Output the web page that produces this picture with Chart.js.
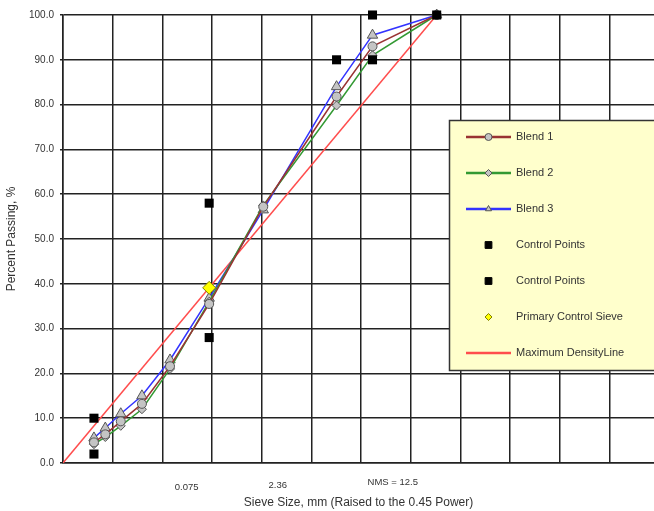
<!DOCTYPE html>
<html>
<head>
<meta charset="utf-8">
<script src="https://cdn.jsdelivr.net/npm/chart.js@4/dist/chart.umd.min.js"></script>
<style>
    body { margin: 0; background: #fff; overflow: hidden; }
    #wrap { width: 654px; height: 511px; }
</style>
</head>
<body>
<div id="wrap"><canvas id="gradationChart"></canvas></div>
<script>
// Sieve sizes (mm) and percent passing for each blend
const sieveSizes = [0.075, 0.15, 0.3, 0.6, 1.18, 2.36, 4.75, 9.5, 12.5, 19];
const blend1 = [4.6, 6.4, 9.3, 13.2, 21.6, 35.5, 57.2, 81.8, 93.0, 100];
const blend2 = [4.2, 5.8, 8.3, 12.0, 21.0, 36.0, 57.5, 79.8, 91.0, 100];
const blend3 = [5.6, 7.8, 11.0, 15.0, 23.0, 36.8, 56.5, 84.0, 95.5, 100];

// Control points (lower and upper)
const cpLowSizes = [0.075, 2.36, 12.5, 19];
const cpLow = [2, 28, 90, 100];
const cpHighSizes = [0.075, 2.36, 9.5, 12.5];
const cpHigh = [10, 58, 90, 100];

// Primary control sieve
const pcsSizes = [2.36];
const pcs = [39.1];

// Maximum density line
const mdlSizes = [0, 19];
const mdl = [0, 100];

// Text labels written under the x axis (value on the powered axis)
const xLabelText = ['0.075', '2.36', 'NMS = 12.5'];
const xLabelAt = [1.245, 2.162, 3.32];

const FONT = "'Liberation Sans', Arial, sans-serif";

function toPoints(sizes, values) {
    return sizes.map((s, i) => ({ x: Math.pow(s, 0.45), y: values[i] }));
}

const markerFill = '#c4c4c4';
const markerEdge = '#555';

// Box legend drawn on top of the plot
const boxLegend = {
    id: 'boxLegend',
    afterDraw(chart) {
        const ctx = chart.ctx;
        ctx.save();
        ctx.fillStyle = '#ffffcc';
        ctx.fillRect(449, 120, 220, 250);
        ctx.strokeStyle = '#333';
        ctx.lineWidth = 1.5;
        ctx.strokeRect(449.5, 120.5, 220, 250);

        chart.data.datasets.forEach((ds, i) => {
            const y = 137 + i * 36;
            if (ds.showLine !== false) {
                ctx.strokeStyle = ds.borderColor;
                ctx.lineWidth = 2.5;
                ctx.beginPath();
                ctx.moveTo(466, y);
                ctx.lineTo(511, y);
                ctx.stroke();
            }
            if (ds.pointRadius > 0) {
                ctx.fillStyle = ds.pointBackgroundColor;
                ctx.strokeStyle = ds.pointBorderColor;
                ctx.lineWidth = 1;
                Chart.helpers.drawPoint(ctx, {
                    pointStyle: ds.pointStyle,
                    radius: ds.legendRadius,
                    borderWidth: 1
                }, 488.5, y);
            }
            ctx.fillStyle = '#333';
            ctx.font = '11px ' + FONT;
            ctx.textAlign = 'left';
            ctx.textBaseline = 'middle';
            ctx.fillText(ds.label, 516, y);
        });

        // labels under the x axis
        const xs = chart.scales.x;
        const ys = [487, 485, 482];
        ctx.font = '9.5px ' + FONT;
        ctx.textAlign = 'center';
        ctx.fillStyle = '#333';
        xLabelText.forEach((t, i) => {
            ctx.fillText(t, xs.getPixelForValue(xLabelAt[i]), ys[i]);
        });
        ctx.restore();
    }
};

const ctx = document.getElementById('gradationChart').getContext('2d');

new Chart(ctx, {
    type: 'scatter',
    data: {
        datasets: [
            {
                label: 'Blend 1',
                data: toPoints(sieveSizes, blend1),
                showLine: true,
                clip: false,
                borderColor: '#993333',
                borderWidth: 1.5,
                pointStyle: 'circle',
                pointRadius: 4.5,
                legendRadius: 3.5,
                pointBackgroundColor: markerFill,
                pointBorderColor: markerEdge,
                pointBorderWidth: 1
            },
            {
                label: 'Blend 2',
                data: toPoints(sieveSizes, blend2),
                showLine: true,
                clip: false,
                borderColor: '#339933',
                borderWidth: 1.5,
                pointStyle: 'rectRot',
                pointRadius: 4.5,
                legendRadius: 3.5,
                pointBackgroundColor: markerFill,
                pointBorderColor: markerEdge,
                pointBorderWidth: 1
            },
            {
                label: 'Blend 3',
                data: toPoints(sieveSizes, blend3),
                showLine: true,
                clip: false,
                borderColor: '#3333ff',
                borderWidth: 1.5,
                pointStyle: 'triangle',
                pointRadius: 6,
                legendRadius: 3.5,
                pointBackgroundColor: markerFill,
                pointBorderColor: markerEdge,
                pointBorderWidth: 1
            },
            {
                label: 'Control Points',
                data: toPoints(cpLowSizes, cpLow),
                showLine: false,
                clip: false,
                order: -1,
                pointStyle: 'rect',
                pointRadius: 6.4,
                legendRadius: 4.8,
                pointBackgroundColor: '#000',
                pointBorderColor: '#000',
                pointBorderWidth: 0
            },
            {
                label: 'Control Points',
                data: toPoints(cpHighSizes, cpHigh),
                showLine: false,
                clip: false,
                order: -1,
                pointStyle: 'rect',
                pointRadius: 6.4,
                legendRadius: 4.8,
                pointBackgroundColor: '#000',
                pointBorderColor: '#000',
                pointBorderWidth: 0
            },
            {
                label: 'Primary Control Sieve',
                data: toPoints(pcsSizes, pcs),
                showLine: false,
                clip: false,
                order: -2,
                pointStyle: 'rectRot',
                pointRadius: 6.5,
                legendRadius: 3.5,
                pointBackgroundColor: '#ffff00',
                pointBorderColor: '#808000',
                pointBorderWidth: 1
            },
            {
                label: 'Maximum DensityLine',
                data: toPoints(mdlSizes, mdl),
                showLine: true,
                borderColor: '#ff4d4d',
                borderWidth: 1.5,
                pointRadius: 0,
                legendRadius: 0
            }
        ]
    },
    options: {
        responsive: true,
        maintainAspectRatio: false,
        animation: false,
        layout: { autoPadding: false, padding: { top: 15, right: 0, left: 0, bottom: 0 } },
        plugins: {
            legend: { display: false },
            tooltip: { enabled: false }
        },
        scales: {
            x: {
                type: 'linear',
                min: 0,
                max: 5.95,
                ticks: { stepSize: 0.5, display: false },
                afterBuildTicks: (scale) => {
                    scale.ticks = scale.ticks.filter(t => t.value <= 5.5 + 1e-9);
                },
                afterFit: (scale) => { scale.height = 48; },
                grid: { color: '#222', lineWidth: 1.5, drawTicks: false },
                border: { color: '#222', width: 1.5 },
                title: {
                    display: true,
                    text: 'Sieve Size, mm (Raised to the 0.45 Power)',
                    color: '#333',
                    font: { family: FONT, size: 12 },
                    padding: { top: 0, bottom: 1 }
                }
            },
            y: {
                min: 0,
                max: 100,
                ticks: {
                    stepSize: 10,
                    color: '#333',
                    padding: 6,
                    font: { family: FONT, size: 10 },
                    callback: (v) => v.toFixed(1)
                },
                afterFit: (scale) => { scale.width = 63; },
                grid: { color: '#222', lineWidth: 1.5, tickLength: 3 },
                border: { color: '#222', width: 1.5 },
                title: {
                    display: true,
                    text: 'Percent Passing, %',
                    color: '#333',
                    font: { family: FONT, size: 12 },
                    padding: { top: 4, bottom: 0 }
                }
            }
        }
    },
    plugins: [boxLegend]
});
</script>
</body>
</html>
